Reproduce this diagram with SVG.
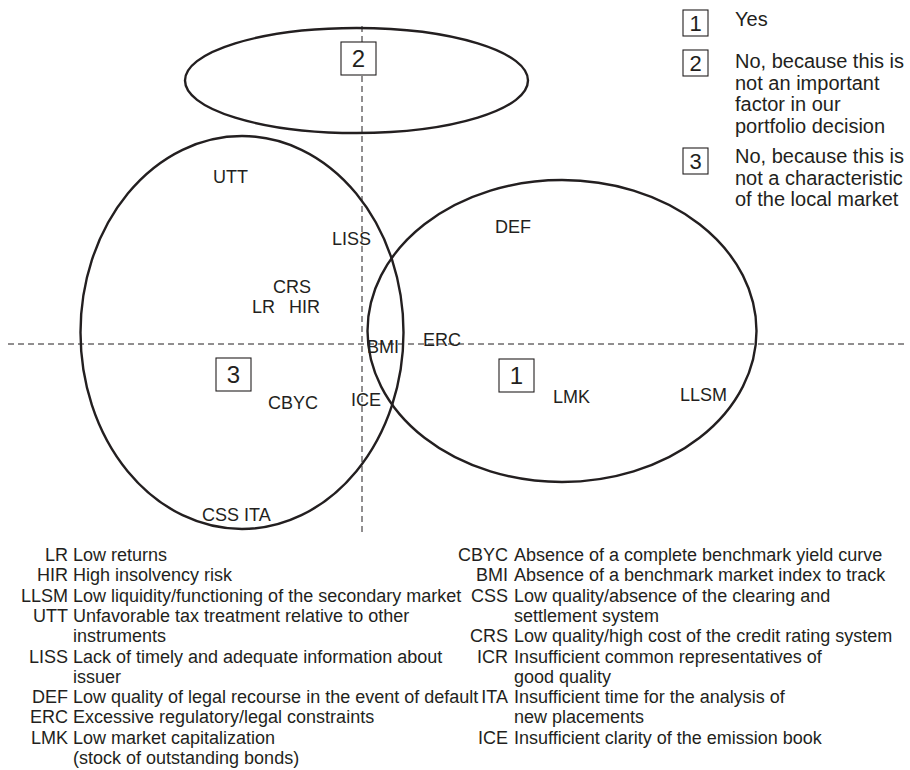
<svg xmlns="http://www.w3.org/2000/svg" width="910" height="770" viewBox="0 0 910 770">
<style>
.ell{fill:none;stroke:#231f20;stroke-width:2.4}
.axis{stroke:#231f20;stroke-width:1;stroke-dasharray:6 4;fill:none}
.box{fill:#fff;stroke:#231f20;stroke-width:1.1}
.num{font-family:"Liberation Sans",Arial,sans-serif;font-size:24px;fill:#231f20;text-anchor:middle}
.lnum{font-family:"Liberation Sans",Arial,sans-serif;font-size:22px;fill:#231f20;text-anchor:middle}
.lbl{font-family:"Liberation Sans",Arial,sans-serif;font-size:18px;fill:#231f20}
.leg{font-family:"Liberation Sans",Arial,sans-serif;font-size:20px;fill:#231f20}
.key{font-family:"Liberation Sans",Arial,sans-serif;font-size:18px;fill:#231f20}
.ab{text-anchor:end}
</style>
<rect width="910" height="770" fill="#fff"/>
<g id="axes">
<line class="axis" x1="362" y1="26" x2="362" y2="532"/>
<line class="axis" x1="8" y1="344" x2="906" y2="344"/>
</g>
<g id="set-2"><ellipse class="ell" cx="356.5" cy="80.5" rx="171.5" ry="52.5"/>
<rect class="box" x="341" y="42" width="35" height="33"/><text class="num" x="358.5" y="67">2</text></g>
<g id="set-3"><ellipse class="ell" cx="242" cy="332.5" rx="161.5" ry="196.5"/>
<rect class="box" x="216" y="358" width="35" height="33"/><text class="num" x="233.5" y="383">3</text></g>
<g id="set-1"><ellipse class="ell" cx="562" cy="331" rx="194.5" ry="151"/>
<rect class="box" x="499" y="359" width="35" height="33"/><text class="num" x="516.5" y="384">1</text></g>
<g id="labels">
<g id="UTT"><text class="lbl" x="213" y="183">UTT</text></g>
<g id="LISS"><text class="lbl" x="332" y="245">LISS</text></g>
<g id="DEF"><text class="lbl" x="495" y="233">DEF</text></g>
<g id="CRS"><text class="lbl" x="273" y="293">CRS</text></g>
<g id="LR"><text class="lbl" x="252" y="313">LR</text></g>
<g id="HIR"><text class="lbl" x="289" y="313">HIR</text></g>
<g id="BMI"><text class="lbl" x="367" y="353">BMI</text></g>
<g id="ERC"><text class="lbl" x="423" y="346">ERC</text></g>
<g id="ICE"><text class="lbl" x="351" y="406">ICE</text></g>
<g id="CBYC"><text class="lbl" x="268" y="409">CBYC</text></g>
<g id="LMK"><text class="lbl" x="553" y="403">LMK</text></g>
<g id="LLSM"><text class="lbl" x="680" y="401">LLSM</text></g>
<g id="CSS-ITA"><text class="lbl" x="202" y="521">CSS ITA</text></g>
</g>
<g id="legend">
<g id="legend-1"><rect class="box" x="683" y="10" width="25" height="26"/><text class="lnum" x="695.5" y="31">1</text>
<text class="leg" x="735" y="26">Yes</text></g>
<g id="legend-2"><rect class="box" x="683" y="50" width="25" height="26"/><text class="lnum" x="695.5" y="71">2</text>
<text class="leg" x="735" y="68">No, because this is</text>
<text class="leg" x="735" y="89.5">not an important</text>
<text class="leg" x="735" y="111">factor in our</text>
<text class="leg" x="735" y="132.5">portfolio decision</text></g>
<g id="legend-3"><rect class="box" x="683" y="148" width="25" height="26"/><text class="lnum" x="695.5" y="169">3</text>
<text class="leg" x="735" y="163">No, because this is</text>
<text class="leg" x="735" y="184.5">not a characteristic</text>
<text class="leg" x="735" y="206">of the local market</text></g>
</g>
<g id="key-left">
<text class="key ab" x="68" y="561">LR</text><text class="key" x="73" y="561">Low returns</text>
<text class="key ab" x="68" y="581.3">HIR</text><text class="key" x="73" y="581.3">High insolvency risk</text>
<text class="key ab" x="68" y="601.6">LLSM</text><text class="key" x="73" y="601.6">Low liquidity/functioning of the secondary market</text>
<text class="key ab" x="68" y="621.9">UTT</text><text class="key" x="73" y="621.9">Unfavorable tax treatment relative to other</text>
<text class="key" x="73" y="642.2">instruments</text>
<text class="key ab" x="68" y="662.5">LISS</text><text class="key" x="73" y="662.5">Lack of timely and adequate information about</text>
<text class="key" x="73" y="682.8">issuer</text>
<text class="key ab" x="68" y="703.1">DEF</text><text class="key" x="73" y="703.1">Low quality of legal recourse in the event of default</text>
<text class="key ab" x="68" y="723.4">ERC</text><text class="key" x="73" y="723.4">Excessive regulatory/legal constraints</text>
<text class="key ab" x="68" y="743.7">LMK</text><text class="key" x="73" y="743.7">Low market capitalization</text>
<text class="key" x="73" y="764">(stock of outstanding bonds)</text>
</g>
<g id="key-right">
<text class="key ab" x="508" y="561">CBYC</text><text class="key" x="514" y="561">Absence of a complete benchmark yield curve</text>
<text class="key ab" x="508" y="581.3">BMI</text><text class="key" x="514" y="581.3">Absence of a benchmark market index to track</text>
<text class="key ab" x="508" y="601.6">CSS</text><text class="key" x="514" y="601.6">Low quality/absence of the clearing and</text>
<text class="key" x="514" y="621.9">settlement system</text>
<text class="key ab" x="508" y="642.2">CRS</text><text class="key" x="514" y="642.2">Low quality/high cost of the credit rating system</text>
<text class="key ab" x="508" y="662.5">ICR</text><text class="key" x="514" y="662.5">Insufficient common representatives of</text>
<text class="key" x="514" y="682.8">good quality</text>
<text class="key ab" x="508" y="703.1">ITA</text><text class="key" x="514" y="703.1">Insufficient time for the analysis of</text>
<text class="key" x="514" y="723.4">new placements</text>
<text class="key ab" x="508" y="743.7">ICE</text><text class="key" x="514" y="743.7">Insufficient clarity of the emission book</text>
</g>
</svg>
